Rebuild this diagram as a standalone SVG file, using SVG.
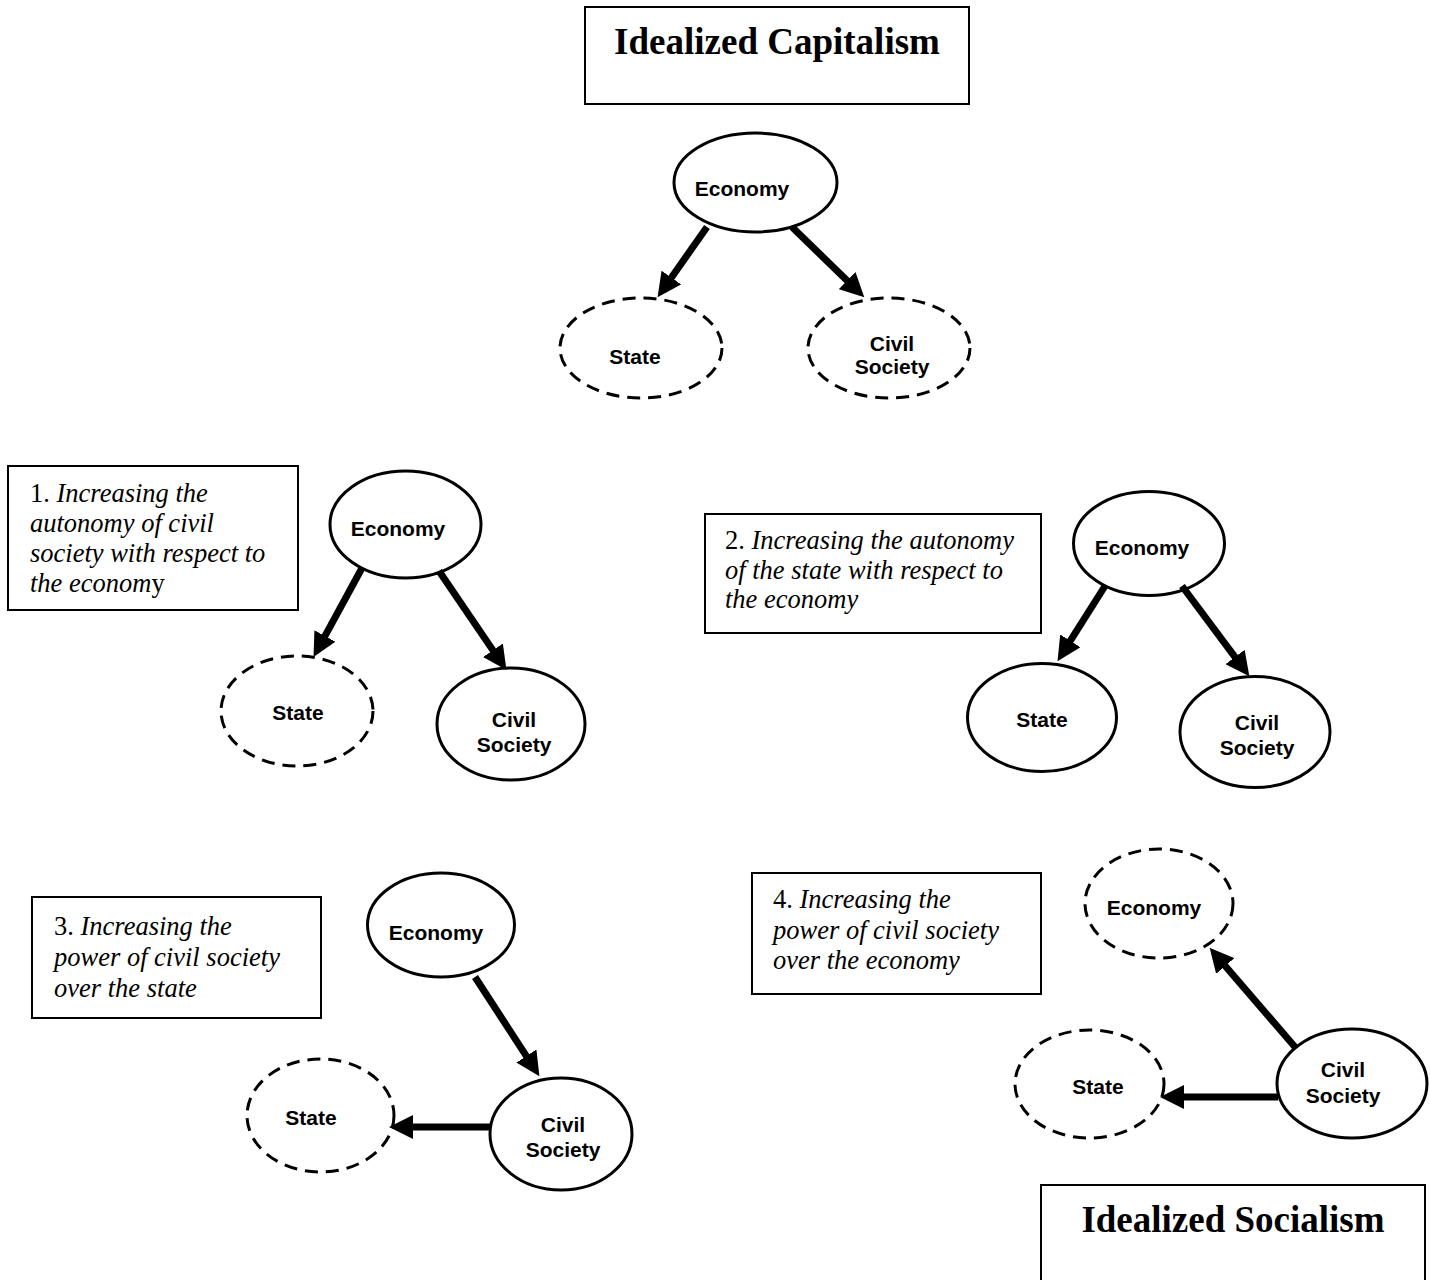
<svg xmlns="http://www.w3.org/2000/svg" width="1430" height="1280" viewBox="0 0 1430 1280">
<style>
.box{fill:#fff;stroke:#000;stroke-width:2}
.title{font-family:"Liberation Serif","Times New Roman",serif;font-weight:bold;font-size:37px;text-anchor:middle;fill:#000}
.note{font-family:"Liberation Serif","Times New Roman",serif;font-size:26.5px;fill:#000}
.note .i{font-style:italic}
.solid{fill:#fff;stroke:#000;stroke-width:3}
.dash{fill:#fff;stroke:#000;stroke-width:3;stroke-dasharray:13 8}
.lbl{font-family:"Liberation Sans",Arial,sans-serif;font-weight:bold;font-size:21px;text-anchor:middle;fill:#000}
.arr{stroke:#000;stroke-width:7;fill:none;marker-end:url(#head)}
</style>
<defs>
<marker id="head" markerUnits="userSpaceOnUse" viewBox="0 0 24 24" markerWidth="24" markerHeight="24" refX="1" refY="12" orient="auto">
<path d="M0,0 L24,12 L0,24 z" fill="#000"/>
</marker>
</defs>
<rect width="1430" height="1280" fill="#fff"/>

<g id="title-capitalism">
<rect class="box" x="585" y="7" width="384" height="97"/>
<text class="title" x="777" y="54">Idealized Capitalism</text>
</g>
<g id="title-socialism">
<rect class="box" x="1041" y="1185" width="384" height="110"/>
<text class="title" x="1233" y="1232">Idealized Socialism</text>
</g>

<g id="note1">
<rect class="box" x="8" y="466" width="290" height="144"/>
<text class="note" x="30" y="502">1. <tspan class="i">Increasing the</tspan></text>
<text class="note i" x="30" y="532" font-style="italic">autonomy of civil</text>
<text class="note i" x="30" y="562" font-style="italic">society with respect to</text>
<text class="note" x="30" y="592"><tspan class="i">the econom</tspan>y</text>
</g>
<g id="note2">
<rect class="box" x="705" y="514" width="336" height="119"/>
<text class="note" x="725" y="549">2. <tspan class="i">Increasing the autonomy</tspan></text>
<text class="note" x="725" y="579" font-style="italic">of the state with respect to</text>
<text class="note" x="725" y="608" font-style="italic">the economy</text>
</g>
<g id="note3">
<rect class="box" x="32" y="897" width="289" height="121"/>
<text class="note" x="54" y="935">3. <tspan class="i">Increasing the</tspan></text>
<text class="note" x="54" y="966" font-style="italic">power of civil society</text>
<text class="note" x="54" y="997" font-style="italic">over the state</text>
</g>
<g id="note4">
<rect class="box" x="752" y="873" width="289" height="121"/>
<text class="note" x="773" y="908">4. <tspan class="i">Increasing the</tspan></text>
<text class="note" x="773" y="939" font-style="italic">power of civil society</text>
<text class="note" x="773" y="969" font-style="italic">over the economy</text>
</g>

<!-- Top diagram -->
<g id="top-economy">
<ellipse class="solid" cx="755.5" cy="182.5" rx="81.5" ry="49.5"/>
<text class="lbl" x="742" y="196">Economy</text>
</g>
<g id="top-state">
<ellipse class="dash" cx="641" cy="348" rx="81" ry="50"/>
<text class="lbl" x="635" y="364">State</text>
</g>
<g id="top-civil">
<ellipse class="dash" cx="889" cy="348" rx="81" ry="50"/>
<text class="lbl" x="892" y="351">Civil</text>
<text class="lbl" x="892" y="374">Society</text>
</g>

<!-- Panel 1 -->
<g id="p1-economy">
<ellipse class="solid" cx="405.5" cy="524.5" rx="75.5" ry="53.5"/>
<text class="lbl" x="398" y="536">Economy</text>
</g>
<g id="p1-state">
<ellipse class="dash" cx="297" cy="711" rx="76" ry="55"/>
<text class="lbl" x="298" y="720">State</text>
</g>
<g id="p1-civil">
<ellipse class="solid" cx="511" cy="724" rx="74" ry="56"/>
<text class="lbl" x="514" y="727">Civil</text>
<text class="lbl" x="514" y="752">Society</text>
</g>

<!-- Panel 2 -->
<g id="p2-economy">
<ellipse class="solid" cx="1149" cy="543.5" rx="75.5" ry="52"/>
<text class="lbl" x="1142" y="555">Economy</text>
</g>
<g id="p2-state">
<ellipse class="solid" cx="1042" cy="717.5" rx="74.5" ry="54"/>
<text class="lbl" x="1042" y="727">State</text>
</g>
<g id="p2-civil">
<ellipse class="solid" cx="1255" cy="732" rx="75" ry="55.5"/>
<text class="lbl" x="1257" y="730">Civil</text>
<text class="lbl" x="1257" y="755">Society</text>
</g>

<!-- Panel 3 -->
<g id="p3-economy">
<ellipse class="solid" cx="441" cy="925" rx="73.5" ry="52"/>
<text class="lbl" x="436" y="940">Economy</text>
</g>
<g id="p3-state">
<ellipse class="dash" cx="320.5" cy="1115.5" rx="73.5" ry="56.5"/>
<text class="lbl" x="311" y="1125">State</text>
</g>
<g id="p3-civil">
<ellipse class="solid" cx="561" cy="1134" rx="71" ry="56"/>
<text class="lbl" x="563" y="1132">Civil</text>
<text class="lbl" x="563" y="1157">Society</text>
</g>

<!-- Panel 4 -->
<g id="p4-economy">
<ellipse class="dash" cx="1159" cy="903.5" rx="74" ry="54.5"/>
<text class="lbl" x="1154" y="915">Economy</text>
</g>
<g id="p4-state">
<ellipse class="dash" cx="1089.5" cy="1084" rx="74.5" ry="54"/>
<text class="lbl" x="1098" y="1094">State</text>
</g>
<g id="p4-civil">
<ellipse class="solid" cx="1352" cy="1083.5" rx="75" ry="54.5"/>
<text class="lbl" x="1343" y="1077">Civil</text>
<text class="lbl" x="1343" y="1103">Society</text>
</g>

<g id="connectors">
<line class="arr" x1="707" y1="227" x2="670.8" y2="278.4"/>
<line class="arr" x1="792" y1="227" x2="847.8" y2="281.3"/>
<line class="arr" x1="362" y1="568" x2="324.5" y2="636.9"/>
<line class="arr" x1="439" y1="571" x2="493.5" y2="651.1"/>
<line class="arr" x1="1105" y1="586" x2="1069.8" y2="641.7"/>
<line class="arr" x1="1182" y1="586" x2="1235.6" y2="657.8"/>
<line class="arr" x1="475" y1="977" x2="526.9" y2="1056.9"/>
<line class="arr" x1="490" y1="1127" x2="412" y2="1127"/>
<line class="arr" x1="1295" y1="1047" x2="1224.6" y2="965.2"/>
<line class="arr" x1="1278" y1="1097" x2="1183" y2="1097"/>
</g>
</svg>
